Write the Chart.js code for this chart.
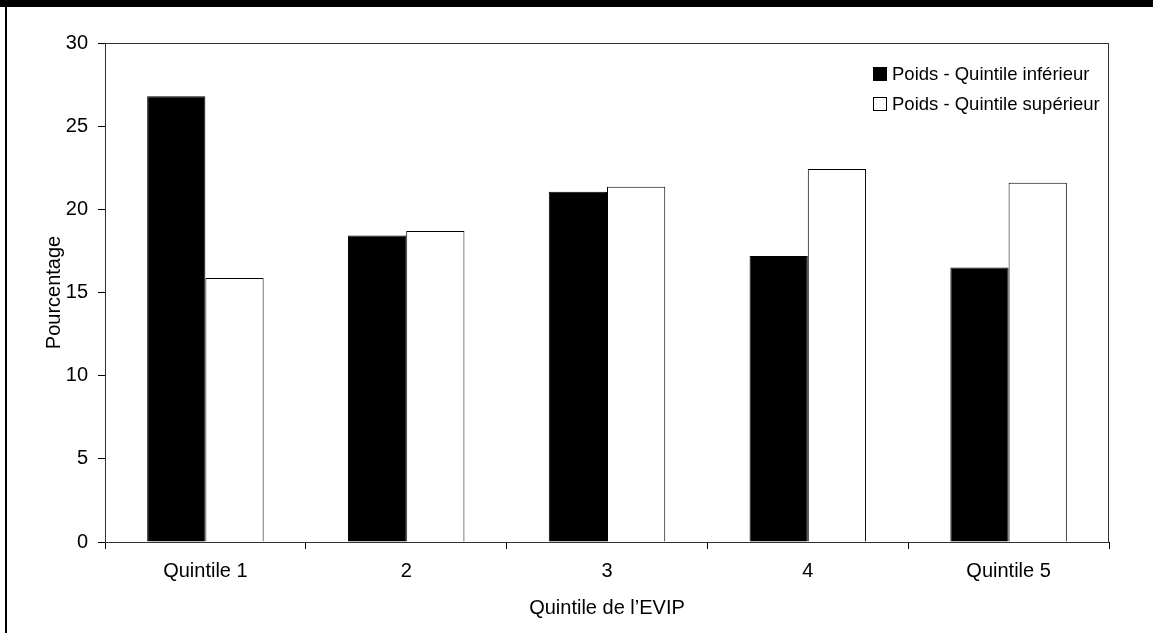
<!DOCTYPE html>
<html lang="fr">
<head>
  <meta charset="UTF-8" />
  <title>Poids selon le quintile de l'EVIP</title>
  <script src="https://cdn.jsdelivr.net/npm/chart.js"></script>
  <style>
    html, body {
      margin: 0;
      padding: 0;
      background: #fff;
      overflow: hidden;
    }
    .wrap {
      position: relative;
      width: 1153px;
      height: 633px;
    }
    .topband {
      position: absolute;
      left: 0; top: 0;
      width: 1153px; height: 7px;
      background: #000;
    }
    .leftline {
      position: absolute;
      left: 5px; top: 0;
      width: 2px; height: 633px;
      background: #000;
    }
  </style>
</head>
<body>
  <div class="wrap">
    <canvas id="chart"></canvas>
    <div class="topband"></div>
    <div class="leftline"></div>
  </div>

  <script>
    // data
    const categories = ["Quintile 1", "2", "3", "4", "Quintile 5"];
    const poidsInferieur = [26.8, 18.42, 21.05, 17.2, 16.5];
    const poidsSuperieur = [15.87, 18.7, 21.36, 22.43, 21.6];
    const seriesLabels = ["Poids - Quintile inférieur", "Poids - Quintile supérieur"];
    const yMin = 0, yMax = 30, yStep = 5;

    const FONT = "'Liberation Sans', Arial, sans-serif";

    // frame around the plot area
    const plotBorder = {
      id: "plotBorder",
      afterDraw(chart) {
        const { ctx, chartArea: a } = chart;
        ctx.save();
        ctx.strokeStyle = "#333";
        ctx.lineWidth = 1;
        ctx.strokeRect(a.left + 0.5, a.top + 0.5, a.right - a.left - 1, a.bottom - a.top);
        ctx.restore();
      }
    };

    // legend drawn inside the plot, top right
    const insideLegend = {
      id: "insideLegend",
      afterDraw(chart) {
        const { ctx, chartArea: a } = chart;
        ctx.save();
        ctx.font = "18.5px " + FONT;
        ctx.textBaseline = "middle";
        ctx.textAlign = "left";
        chart.data.datasets.forEach((ds, i) => {
          const yc = a.top + 31 + i * 30;
          const bx = a.right - 236;
          ctx.fillStyle = ds.backgroundColor;
          ctx.fillRect(bx, yc - 7, 14, 14);
          ctx.strokeStyle = "#000";
          ctx.lineWidth = 1;
          ctx.strokeRect(bx + 0.5, yc - 6.5, 13, 13);
          ctx.fillStyle = "#000";
          ctx.fillText(ds.label, bx + 19, yc + 1);
        });
        ctx.restore();
      }
    };

    new Chart(document.getElementById("chart"), {
      type: "bar",
      data: {
        labels: categories,
        datasets: [
          {
            label: seriesLabels[0],
            data: poidsInferieur,
            backgroundColor: "#000",
            borderColor: "#000",
            borderWidth: 1,
            categoryPercentage: 0.58,
            barPercentage: 1
          },
          {
            label: seriesLabels[1],
            data: poidsSuperieur,
            backgroundColor: "#fff",
            borderColor: "#000",
            borderWidth: 1,
            categoryPercentage: 0.58,
            barPercentage: 1
          }
        ]
      },
      options: {
        responsive: true,
        maintainAspectRatio: false,
        animation: false,
        layout: { padding: { top: 43, right: 44, bottom: 12, left: 30 } },
        plugins: {
          legend: { display: false },
          tooltip: { enabled: false }
        },
        scales: {
          x: {
            grid: {
              display: true,
              drawOnChartArea: false,
              drawTicks: true,
              tickLength: 7,
              color: "#000"
            },
            border: { color: "#000" },
            ticks: {
              color: "#000",
              padding: 10,
              font: { family: FONT, size: 20 },
              maxRotation: 0
            },
            title: {
              display: true,
              text: "Quintile de l’EVIP",
              color: "#000",
              font: { family: FONT, size: 20 },
              padding: { top: 7, bottom: 1 }
            },
            afterFit(scale) { scale.height = 79; }
          },
          y: {
            min: yMin,
            max: yMax,
            grid: {
              display: true,
              drawOnChartArea: false,
              drawTicks: true,
              tickLength: 7,
              color: "#000"
            },
            border: { color: "#000" },
            ticks: {
              stepSize: yStep,
              color: "#000",
              padding: 10,
              font: { family: FONT, size: 20 }
            },
            title: {
              display: true,
              text: "Pourcentage",
              color: "#000",
              font: { family: FONT, size: 20 },
              padding: { top: 12, bottom: 0 }
            },
            afterFit(scale) { scale.width = 75; }
          }
        }
      },
      plugins: [plotBorder, insideLegend]
    });
  </script>
</body>
</html>
